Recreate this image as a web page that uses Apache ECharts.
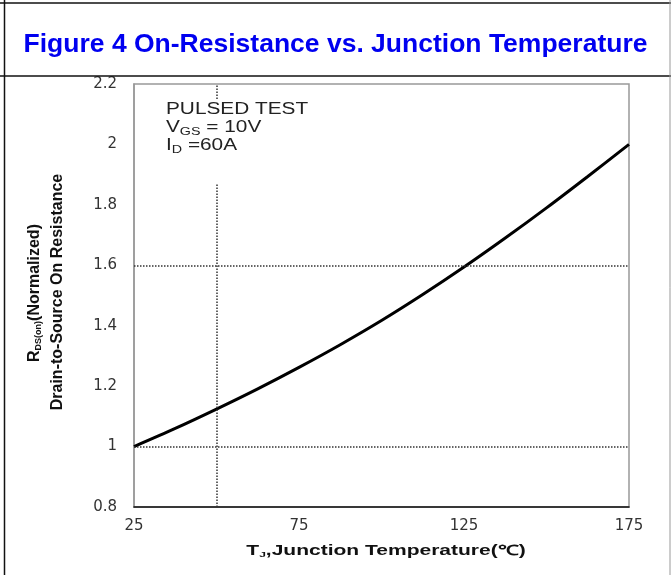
<!DOCTYPE html>
<html>
<head>
<meta charset="utf-8">
<script src="https://cdn.jsdelivr.net/npm/echarts@6/dist/echarts.min.js"></script>
<style>
  html, body { margin: 0; padding: 0; background: #fff; }
  #chart { width: 671px; height: 575px; }
</style>
</head>
<body>
<div id="chart"></div>
<script>
// junction temperature (C) and normalized Rds(on)
var tempC = [25, 37.5, 50, 62.5, 75, 87.5, 100, 112.5, 125, 137.5, 150, 162.5, 175];
var rdsNorm = [1.0, 1.06, 1.124, 1.191, 1.262, 1.337, 1.417, 1.503, 1.594, 1.69, 1.79, 1.894, 2.0];
// dotted reference lines
var refX = [50];
var refY = [1.0, 1.6];
var xTickLabels = [25, 75, 125, 175];

var myChart = echarts.init(document.getElementById('chart'));

var refLines = refX.map(function (v) { return { xAxis: v }; })
  .concat(refY.map(function (v) { return { yAxis: v }; }));

var option = {
  animation: false,
  backgroundColor: '#fff',
  title: {
    text: 'Figure 4 On-Resistance vs. Junction Temperature',
    left: 'center',
    top: 26,
    textStyle: {
      fontFamily: 'Liberation Sans',
      fontSize: 26.5,
      fontWeight: 'bold',
      color: '#0000f0'
    }
  },
  grid: {
    left: 134, right: 42, top: 84, bottom: 68,
    show: true,
    borderColor: '#999',
    borderWidth: 1.5
  },
  xAxis: {
    type: 'value',
    min: 25, max: 175, interval: 25,
    axisLine: { show: true, lineStyle: { color: '#111', width: 1.5 } },
    axisTick: { show: false },
    splitLine: { show: false },
    axisLabel: {
      margin: 12,
      fontFamily: 'DejaVu Sans',
      fontSize: 15,
      color: '#333',
      formatter: function (v) {
        return xTickLabels.indexOf(v) >= 0 ? String(v) : '';
      }
    }
  },
  yAxis: {
    type: 'value',
    min: 0.8, max: 2.2, interval: 0.2,
    axisLine: { show: true, lineStyle: { color: '#999', width: 1.5 } },
    axisTick: { show: false },
    splitLine: { show: false },
    axisLabel: {
      margin: 17,
      fontFamily: 'DejaVu Sans',
      fontSize: 15,
      color: '#333',
      formatter: function (v) { return String(Math.round(v * 10) / 10); }
    }
  },
  series: [{
    type: 'line',
    data: tempC.map(function (t, i) { return [t, rdsNorm[i]]; }),
    smooth: 0.3,
    symbol: 'none',
    lineStyle: { color: '#000', width: 3 },
    markLine: {
      silent: true,
      symbol: 'none',
      label: { show: false },
      lineStyle: { type: 'dotted', color: '#333', width: 1.5 },
      data: refLines
    }
  }],
  graphic: [
    // page frame lines
    { type: 'line', z: 50, shape: { x1: 0, y1: 3, x2: 671, y2: 3 }, style: { stroke: '#111', lineWidth: 1.5 } },
    { type: 'line', z: 50, shape: { x1: 0, y1: 76, x2: 671, y2: 76 }, style: { stroke: '#111', lineWidth: 1.5 } },
    { type: 'line', z: 50, shape: { x1: 4.5, y1: 0, x2: 4.5, y2: 575 }, style: { stroke: '#111', lineWidth: 1.5 } },
    { type: 'line', z: 50, shape: { x1: 670, y1: 0, x2: 670, y2: 575 }, style: { stroke: '#999', lineWidth: 1 } },
    // test conditions box
    { type: 'rect', z: 100, shape: { x: 160, y: 100, width: 160, height: 83 }, style: { fill: '#fff' } },
    {
      type: 'text', z: 101, x: 166, y: 118, scaleX: 1.3,
      style: { text: 'PULSED TEST', fontFamily: 'Liberation Sans', fontSize: 16, fill: '#222', verticalAlign: 'bottom' }
    },
    {
      type: 'text', z: 101, x: 166, y: 137, scaleX: 1.3,
      style: {
        text: 'V{s|GS} = 10V',
        fontFamily: 'Liberation Sans', fontSize: 16, fill: '#222', verticalAlign: 'bottom',
        rich: { s: { fontSize: 11, fontFamily: 'Liberation Sans', fill: '#222', padding: [8, 0, 0, 0] } }
      }
    },
    {
      type: 'text', z: 101, x: 166, y: 155, scaleX: 1.3,
      style: {
        text: 'I{s|D} =60A',
        fontFamily: 'Liberation Sans', fontSize: 16, fill: '#222', verticalAlign: 'bottom',
        rich: { s: { fontSize: 11, fontFamily: 'Liberation Sans', fill: '#222', padding: [8, 0, 0, 0] } }
      }
    },
    // y axis title (two lines, rotated)
    {
      type: 'text', z: 101, x: 35, y: 293, rotation: Math.PI / 2,
      style: {
        text: 'R{s|DS(on)}(Normalized)',
        align: 'center', verticalAlign: 'middle',
        fontFamily: 'Liberation Sans', fontSize: 16, fontWeight: 'bold', fill: '#111',
        rich: { s: { fontSize: 9, fontWeight: 'bold', fontFamily: 'Liberation Sans', fill: '#111', padding: [8, 0, 0, 0] } }
      }
    },
    {
      type: 'text', z: 101, x: 58, y: 292, rotation: Math.PI / 2,
      style: {
        text: 'Drain-to-Source On Resistance',
        align: 'center', verticalAlign: 'middle',
        fontFamily: 'Liberation Sans', fontSize: 16, fontWeight: 'bold', fill: '#111'
      }
    },
    // x axis title
    {
      type: 'text', z: 101, x: 386, y: 551, scaleX: 1.5,
      style: {
        text: 'T{s|J},Junction Temperature(℃)',
        align: 'center', verticalAlign: 'middle',
        fontFamily: 'Liberation Sans', fontSize: 14, fontWeight: 'bold', fill: '#111',
        rich: { s: { fontSize: 8, fontWeight: 'bold', fontFamily: 'Liberation Sans', fill: '#111', padding: [7, 0, 0, 0] } }
      }
    }
  ]
};

myChart.setOption(option);
window.onresize = function () { myChart.resize(); };
</script>
</body>
</html>
